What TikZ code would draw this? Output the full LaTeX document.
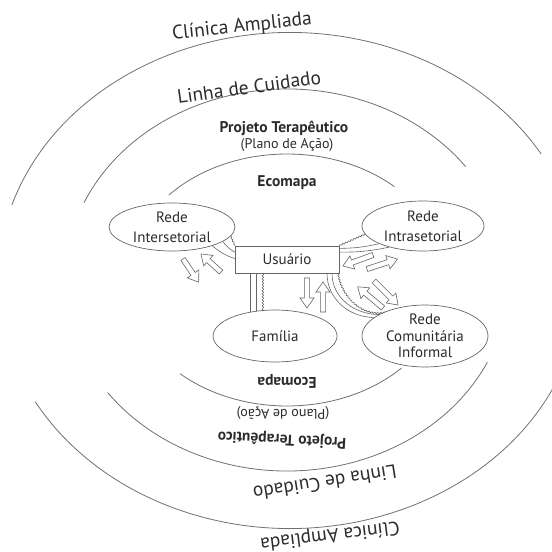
\documentclass[tikz,border=0pt]{standalone}
\usepackage{fontspec}
\setmainfont{PT Sans}
\usepackage{tikz}
\usepackage{xcolor}
\usetikzlibrary{shapes,decorations.pathmorphing,calc}
\definecolor{ink}{HTML}{2B2B2B}
\definecolor{ringgray}{HTML}{707070}
\definecolor{linkgray}{HTML}{666666}
\tikzset{
  ringline/.style={draw=ringgray,line width=0.8pt},
  biglabel/.style={text=ink,inner sep=0pt,font=\fontsize{19.5}{22}\selectfont},
  midlabel/.style={text=ink,inner sep=0pt,font=\fontsize{15.5}{17}\selectfont\bfseries},
  smalllabel/.style={text=ink,inner sep=0pt,font=\fontsize{14}{16}\selectfont},
  actor/.style={ellipse,draw=linkgray,fill=white,line width=0.7pt,
                minimum width=125pt,minimum height=50pt,inner sep=0pt,
                align=center,text=ink,font=\fontsize{15}{20}\selectfont},
  userbox/.style={rectangle,draw=linkgray,fill=white,line width=0.8pt,
                  minimum width=104pt,minimum height=27pt,inner sep=0pt,
                  text=ink,font=\fontsize{15}{18}\selectfont},
  tie/.style={draw=linkgray,line width=0.6pt},
  stresstie/.style={tie,decorate,decoration={snake,amplitude=0.7pt,segment length=3pt}},
  hollow/.style={draw=linkgray,line width=0.6pt,fill=white,line join=miter}
}

\begin{document}
\begin{tikzpicture}[x=1pt,y=-1pt]
  \useasboundingbox (0,0) rectangle (552,552);

  % rings, upper and lower halves
  \draw[ringline] (290,280.5) ++(-162.3:292 and 248) arc[start angle=-162.3,end angle=-30.7,x radius=292,y radius=248];
  \draw[ringline] (290,280.5) ++(21.8:292 and 248) arc[start angle=21.8,end angle=150.7,x radius=292,y radius=248];
  \draw[ringline] (287,280) ++(-156.1:222 and 191) arc[start angle=-156.1,end angle=-36.4,x radius=222,y radius=191];
  \draw[ringline] (287,280) ++(25.5:222 and 191) arc[start angle=25.5,end angle=143.9,x radius=222,y radius=191];
  \draw[ringline] (287,280) ++(-137.6:160 and 126) arc[start angle=-137.6,end angle=-47.8,x radius=160,y radius=126];
  \draw[ringline] (287,280) ++(44.3:160 and 126) arc[start angle=44.3,end angle=131.9,x radius=160,y radius=126];

  \node[biglabel,rotate=6] (clinA) at (242,27) {Clínica Ampliada};
  \node[biglabel,rotate=8] (linhaA) at (249,87) {Linha de Cuidado};
  \node[midlabel] (projA) at (284,128) {Projeto Terapêutico};
  \node[smalllabel] (planoA) at (287,145) {(Plano de Ação)};
  \node[midlabel] (ecoA) at (287,183) {Ecomapa};
  \node[midlabel,rotate=180] (ecoB) at (287,381) {Ecomapa};
  \node[smalllabel,rotate=180] (planoB) at (283,413) {(Plano de Ação)};
  \node[midlabel,rotate=177] (projB) at (282,439) {Projeto Terapêutico};
  \node[biglabel,rotate=189] (linhaB) at (325,483) {Linha de Cuidado};
  \node[biglabel,rotate=187] (clinB) at (330,535) {Clínica Ampliada};

  % ecomapa
  \node[userbox] (user) at (287,259.5) {Usuário};
  \node[actor,minimum width=126pt,minimum height=48pt] (inter) at (172,227) {Rede\\Intersetorial};
  \node[actor,minimum width=122pt] (intra) at (423,226) {Rede\\Intrasetorial};
  \node[actor,minimum width=124pt,minimum height=52pt] (fam) at (275,336) {Família};
  \node[actor,minimum width=126pt,font=\fontsize{15}{16.5}\selectfont] (com) at (425,336) {Rede\\Comunitária\\Informal};

  \draw[tie] (inter.-25) to[bend right=10] (user.179);
  \draw[tie] (inter.-16) to[bend right=10] (user.172);
  \draw[stresstie] (inter.-9) to (user.165);

  \draw[stresstie] (user.north east) to (intra.-172);
  \draw[tie] (user.12) to[bend right=6] (intra.-158);
  \draw[tie] (user.8) to[bend right=6] (intra.-148);

  \draw[tie] (user.south -| fam.135) -- (fam.135);
  \draw[tie] (user.south -| fam.127) -- (fam.127);
  \draw[stresstie] (user.south -| fam.115) -- (fam.115);

  \draw[tie] ([xshift=40pt]user.south) to[out=-90,in=180] (com.160);
  \draw[tie] ([xshift=45pt]user.south) to[out=-90,in=180] (com.155);
  \draw[stresstie] ([xshift=51pt]user.south) to[out=-80,in=190] (com.149);

  \foreach \tx/\ty/\ang/\len in {183/259/-56/28, 221/272/138/27, 373/255/200/32, 367/269/18/32,
                                 307/278/-90/30, 323/312/90/30, 383/308/140/33, 374/281/-45/34}
    \draw[hollow,shift={(\tx,\ty)},rotate=\ang] (0,-2.6) -- (\len-10,-2.6) -- (\len-10,-7) -- (\len,0)
      -- (\len-10,7) -- (\len-10,2.6) -- (0,2.6) -- cycle;
\end{tikzpicture}
\end{document}
